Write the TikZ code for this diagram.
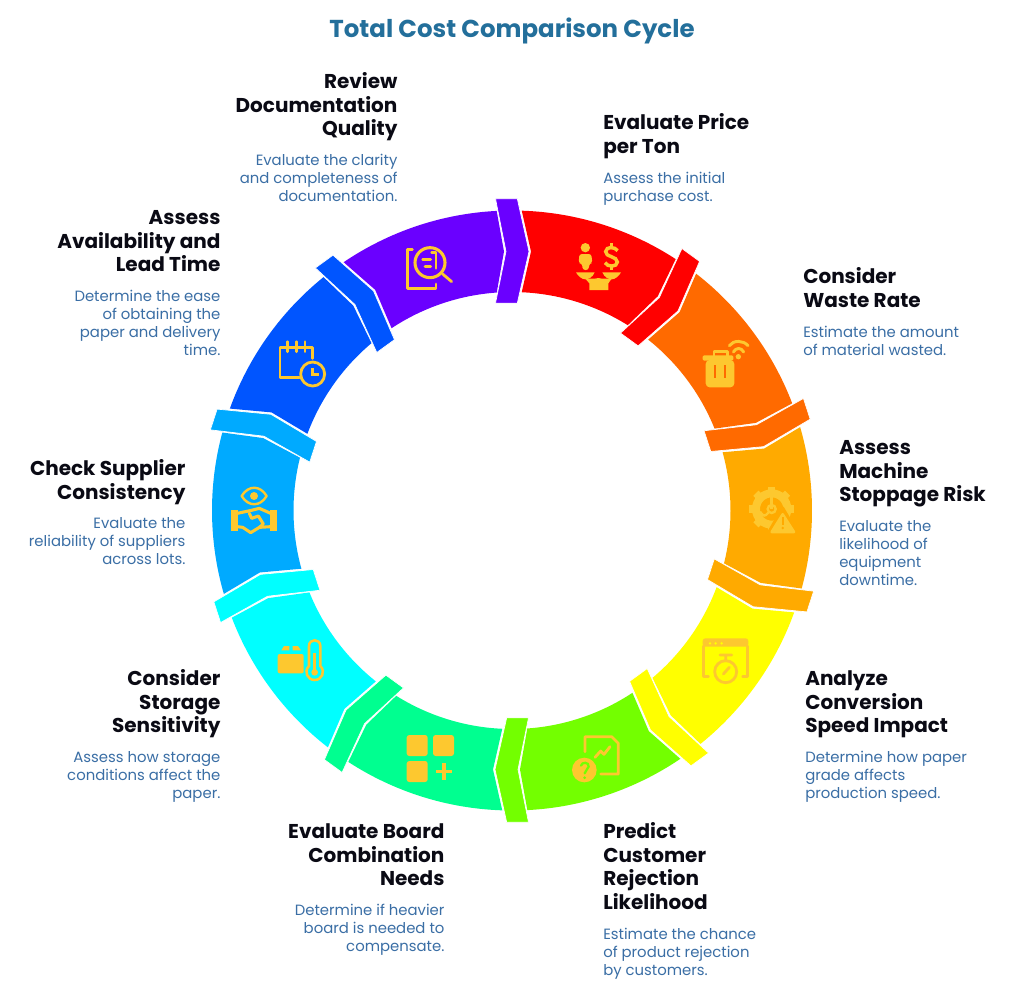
\documentclass[tikz,border=0pt]{standalone}
\usepackage{fontspec}
\setmainfont{Poppins}
\definecolor{segA}{HTML}{FF0000}
\definecolor{segB}{HTML}{FF6A00}
\definecolor{segC}{HTML}{FFAA00}
\definecolor{segD}{HTML}{FFFF00}
\definecolor{segE}{HTML}{73FF00}
\definecolor{segF}{HTML}{00FF90}
\definecolor{segG}{HTML}{00FFFF}
\definecolor{segH}{HTML}{00AAFF}
\definecolor{segI}{HTML}{0055FF}
\definecolor{segJ}{HTML}{6A00FF}
\definecolor{gold}{HTML}{FDC82F}
\definecolor{titleblue}{HTML}{236F9B}
\definecolor{descblue}{HTML}{3A6EA5}
\definecolor{headblack}{HTML}{0A0A14}
\tikzset{
  headL/.style={anchor=north west,inner sep=0pt,yshift=-.6pt,align=left,text=headblack,font=\fontsize{15}{17.7}\selectfont\bfseries},
  headR/.style={anchor=north east,inner sep=0pt,yshift=-.6pt,align=right,text=headblack,font=\fontsize{15}{17.7}\selectfont\bfseries},
  descL/.style={anchor=north west,inner sep=0pt,align=left,text=descblue,font=\fontsize{11.15}{13.5}\selectfont},
  descR/.style={anchor=north east,inner sep=0pt,align=right,text=descblue,font=\fontsize{11.15}{13.5}\selectfont},
  zoomA/.style={shift={(#1)},x=.25pt,y=-.25pt},
  ln/.style={draw=gold,line width=2.1pt,line cap=round,line join=round},
  fl/.style={fill=gold,draw=none}
}
\begin{document}
\begin{tikzpicture}[x=.75pt,y=-.75pt]
\useasboundingbox (0,0) rectangle (1024,982);
\fill[white] (0,0) rectangle (1024,982);
% ring
\begin{scope}[shift={(512,510.5)},y=.75pt]
\foreach \k/\col in {0/segA,1/segB,2/segC,3/segD,4/segE,5/segF,6/segG,7/segH,8/segI,9/segJ}{
  \begin{scope}[rotate=-36*\k]
    \fill[\col] (88.14:300) arc[start angle=88.14,end angle=56.93,radius=300]
      -- ([rotate=-36]-8,259) -- (58.01:218.5) arc[start angle=58.01,end angle=87.45,radius=218.5]
      -- (19,259) -- cycle;
  \end{scope}
}
\foreach \k/\col in {0/segJ,1/segA,2/segB,3/segC,4/segD,5/segE,6/segF,7/segG,8/segH,9/segI}{
  \begin{scope}[rotate=-36*\k]
    \filldraw[fill=\col,draw=white,line width=.5pt,line join=miter]
      (-16.5,311.8) -- (5.3,311.8) -- (17,259) -- (5.3,207.3) -- (-16.5,207.3) -- (-6,259) -- cycle;
  \end{scope}
}
\end{scope}
% icon 1: scales
\begin{scope}[zoomA={480,180}]
  \fill[gold] (316,203) circle[radius=14];
  \fill[gold,rounded corners=2pt] (296,250) -- (298,222) -- (334,222) -- (337,250) -- (328,250) -- (326,270) -- (308,270) -- (306,250) -- cycle;
  \draw[gold,line width=2.6pt] (413,212) .. controls (405,200) and (378,198) .. (377,215) .. controls (376,232) and (412,228) .. (412,246) .. controls (412,262) and (382,262) .. (375,248);
  \draw[gold,line width=2.6pt] (394,190) -- (394,204) (394,256) -- (394,270);
  \fill[gold] (288,277) -- (344,277) .. controls (338,292) and (325,298) .. (316,298) .. controls (305,298) and (294,288) .. (288,277) -- cycle;
  \fill[gold] (367,277) -- (423,277) .. controls (417,288) and (406,298) .. (395,298) .. controls (386,298) and (373,292) .. (367,277) -- cycle;
  \fill[gold] (316,296) -- (345,296) .. controls (348,294) and (362,294) .. (365,296) -- (395,296) -- (385,310) -- (385,330) -- (328,330) -- (328,310) -- cycle;
\end{scope}
% icon 2: bin and wifi
\begin{scope}[zoomA={620,330}]
  \fill[gold,rounded corners=3pt] (257,90) -- (343,90) -- (343,172) -- (257,172) -- cycle;
  \fill[gold,rounded corners=1pt] (248,76) -- (340,76) -- (340,92) -- (248,92) -- cycle;
  \draw[gold,line width=2.2pt,line join=round] (282,78) -- (282,64) -- (322,64) -- (322,78);
  \draw[segB,line width=1pt] (285,105) -- (285,145) (315,105) -- (315,145);
  \fill[gold] (355,80) circle[radius=8];
  \draw[gold,line width=2.2pt,line cap=round] (340,66) .. controls (348,52) and (364,52) .. (371,66);
  \draw[gold,line width=2.2pt,line cap=round] (328,47) .. controls (340,30) and (370,30) .. (384,47);
\end{scope}
% icon 3: gear and warning
\begin{scope}[zoomA={620,330}]
  \foreach \a in {0,45,...,315}{
    \fill[gold,rotate around={\a:(455,537)}] (444,470) rectangle (466,490);
  }
  \draw[gold,line width=6pt] (455,537) circle[radius=47];
  \fill[segC] (455,537) circle[radius=32];
  \draw[gold,line width=1.8pt] (455,537) -- (455,500);
  \draw[gold,line width=1.8pt] (455,537) circle[radius=12];
  \draw[gold,line width=1.8pt] (445,548) .. controls (435,560) and (430,560) .. (420,545);
  \fill[segC,draw=segC,line width=2pt,line join=round] (488,533) -- (440,616) -- (537,616) -- cycle;
  \fill[gold,draw=gold,line width=2pt,line join=round] (488,553) -- (455,606) -- (522,606) -- cycle;
  \fill[segC] (485,560) rectangle (491,585);
  \fill[segC] (488,594) circle[radius=4];
\end{scope}
% icon 4: window and stopwatch
\begin{scope}[zoomA={680,620}]
  \fill[gold,rounded corners=2pt] (68,80) -- (68,55) -- (205,55) -- (205,80) -- cycle;
  \draw[ln] (71,78) -- (71,170) -- (85,170);
  \draw[ln] (202,78) -- (202,170) -- (188,170);
  \fill[segD] (90,70) circle[radius=4] (107,70) circle[radius=4] (125,70) circle[radius=4];
  \draw[ln] (137,155) circle[radius=33];
  \draw[ln] (120,105) -- (155,105) (137,105) -- (137,122) (130,162) -- (148,142);
\end{scope}
% icon 5: document and question mark
\begin{scope}[zoomA={480,620}]
  \draw[ln] (315,395) -- (315,350) -- (395,350) -- (415,370) -- (415,462) -- (362,462);
  \draw[ln] (345,412) -- (362,393) -- (372,403) -- (390,380);
  \fill[gold] (313,450) circle[radius=37];
  \draw[segE,line width=1.7pt,line cap=round] (303,437) .. controls (305,425) and (328,425) .. (326,440) .. controls (325,450) and (314,450) .. (314,460);
  \fill[segE] (314,473) circle[radius=4.5];
\end{scope}
% icon 6: squares and plus
\begin{scope}[zoomA={200,560}]
  \fill[gold,rounded corners=2pt] (620,525) rectangle (683,588);
  \fill[gold,rounded corners=2pt] (699,525) rectangle (762,588);
  \fill[gold,rounded corners=2pt] (620,603) rectangle (683,666);
  \draw[gold,line width=2.6pt] (707,634) -- (757,634) (732,609) -- (732,659);
\end{scope}
% icon 7: box and thermometer
\begin{scope}[zoomA={200,560}]
  \fill[gold,rounded corners=1.5pt] (233,282) rectangle (311,340);
  \fill[gold] (244,271) -- (252,258) -- (268,258) -- (268,271) -- cycle;
  \fill[gold] (278,258) -- (294,258) -- (303,271) -- (278,271) -- cycle;
  \draw[gold,line width=1.9pt] (327,318) -- (327,258) .. controls (327,235) and (361,235) .. (361,258) -- (361,318) .. controls (378,335) and (365,360) .. (344,360) .. controls (323,360) and (310,335) .. (327,318) -- cycle;
  \draw[gold,line width=1.9pt] (344,280) -- (344,335);
  \fill[gold] (344,337) circle[radius=10];
\end{scope}
% icon 8: eye and handshake
\begin{scope}[zoomA={200,200}]
  \draw[ln,line width=1.8pt] (125,888) .. controls (145,855) and (180,855) .. (200,888) .. controls (180,921) and (145,921) .. (125,888) -- cycle;
  \fill[gold] (162,888) circle[radius=12];
  \fill[gold] (93,930) rectangle (115,992);
  \fill[gold] (210,930) rectangle (232,992);
  \draw[ln,line width=2.3pt] (112,940) -- (150,932) -- (178,925) -- (212,940);
  \draw[ln,line width=2.3pt] (112,980) -- (128,982) -- (152,998) -- (178,982) -- (212,980);
  \draw[ln,line width=2.3pt] (148,940) -- (155,955) -- (175,948) -- (190,972) -- (178,982);
\end{scope}
% icon 9: calendar and clock
\begin{scope}[zoomA={200,200}]
  \draw[ln] (338,475) -- (338,443) -- (240,443) -- (240,532) -- (298,532);
  \draw[ln] (263,425) -- (263,455) (290,425) -- (290,455) (315,425) -- (315,455);
  \draw[ln] (338,522) circle[radius=36];
  \fill[gold] (333,505) rectangle (342,528);
  \fill[gold] (333,519) rectangle (357,528);
\end{scope}
% icon 10: document and magnifier
\begin{scope}[zoomA={200,200}]
  \draw[ln] (637,148) -- (622,148) -- (622,265) -- (708,265) -- (708,252);
  \draw[ln,line width=2.3pt] (690,188) circle[radius=45];
  \draw[ln] (668,178) -- (692,178) (675,199) -- (692,199);
  \draw[ln] (695,158) -- (708,158) -- (708,205);
  \draw[ln] (728,222) -- (755,245);
\end{scope}
% title
\node[inner sep=0pt,text=titleblue,font=\fontsize{18.35}{22}\selectfont\bfseries] (title) at (512,31) {Total Cost Comparison Cycle};
% labels
\node[headL] (h1) at (603,112) {\strut Evaluate Price\\per Ton};
\node[descL] (d1) at (603,170.4) {\strut Assess the initial\\purchase cost.};
\node[headL] (h2) at (803,266) {\strut Consider\\Waste Rate};
\node[descL] (d2) at (803,324.4) {\strut Estimate the amount\\of material wasted.};
\node[headL] (h3) at (839,437) {\strut Assess\\Machine\\Stoppage Risk};
\node[descL] (d3) at (839,518.4) {\strut Evaluate the\\likelihood of\\equipment\\downtime.};
\node[headL] (h4) at (805,668) {\strut Analyze\\Conversion\\Speed Impact};
\node[descL] (d4) at (805,749.4) {\strut Determine how paper\\grade affects\\production speed.};
\node[headL] (h5) at (603,821) {\strut Predict\\Customer\\Rejection\\Likelihood};
\node[descL] (d5) at (603,926.4) {\strut Estimate the chance\\of product rejection\\by customers.};
\node[headR] (h6) at (444.7,821) {\strut Evaluate Board\\Combination\\Needs};
\node[descR] (d6) at (444.7,902.4) {\strut Determine if heavier\\board is needed to\\compensate.};
\node[headR] (h7) at (220.7,668) {\strut Consider\\Storage\\Sensitivity};
\node[descR] (d7) at (220.7,749.4) {\strut Assess how storage\\conditions affect the\\paper.};
\node[headR] (h8) at (185.7,458) {\strut Check Supplier\\Consistency};
\node[descR] (d8) at (185.7,515.4) {\strut Evaluate the\\reliability of suppliers\\across lots.};
\node[headR] (h9) at (220.7,207) {\strut Assess\\Availability and\\Lead Time};
\node[descR] (d9) at (220.7,288.4) {\strut Determine the ease\\of obtaining the\\paper and delivery\\time.};
\node[headR] (h10) at (397.7,71) {\strut Review\\Documentation\\Quality};
\node[descR] (d10) at (397.7,152.4) {\strut Evaluate the clarity\\and completeness of\\documentation.};
\end{tikzpicture}
\end{document}
